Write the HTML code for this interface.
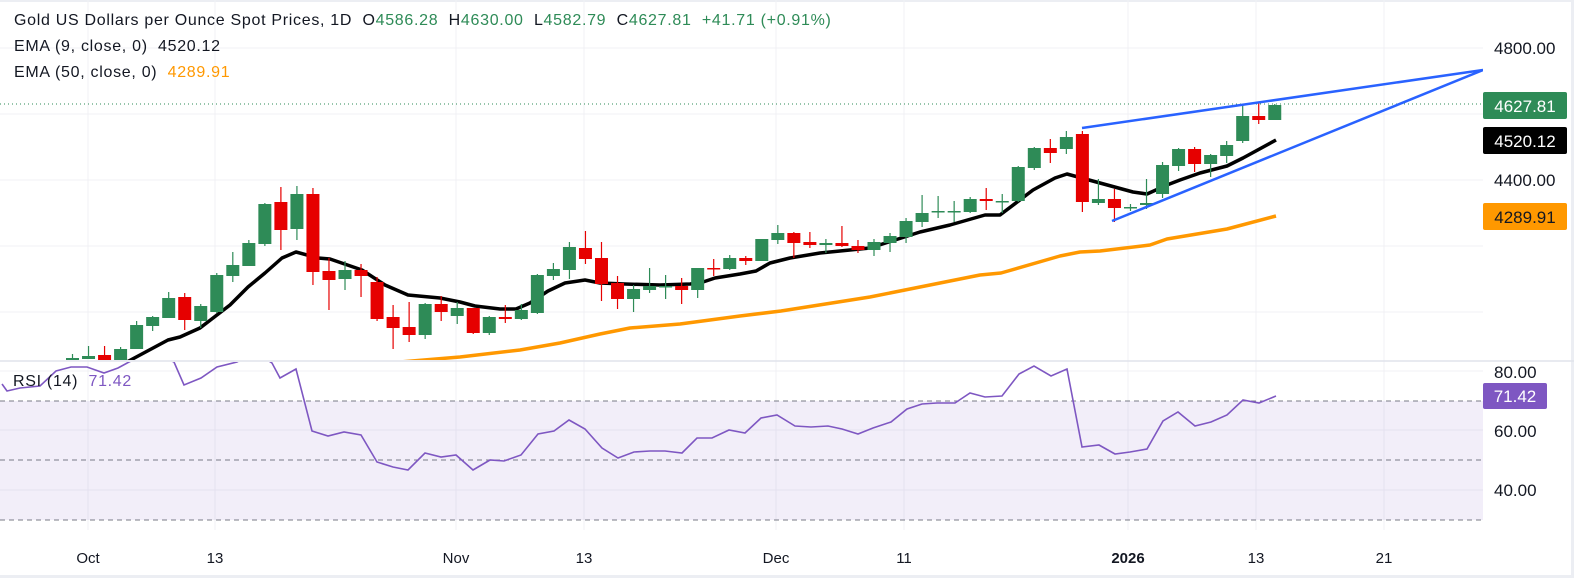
<!DOCTYPE html>
<html><head><meta charset="utf-8"><style>
body{margin:0;background:#fff;width:1574px;height:578px;overflow:hidden;font-family:"Liberation Sans",sans-serif}
.t{position:absolute;font-size:16px;color:#131722;white-space:nowrap;letter-spacing:0.7px}
.g{color:#2e8b57}
</style></head><body>
<svg id="s" width="1574" height="578" style="position:absolute;left:0;top:0" xmlns="http://www.w3.org/2000/svg">
<rect x="0" y="0" width="1574" height="578" fill="#fff"/>
<rect x="0" y="0" width="1574" height="2" fill="#eceef3"/>
<rect x="1571" y="0" width="3" height="578" fill="#eceef3"/>
<rect x="0" y="575" width="1574" height="3" fill="#eceef3"/>
<g stroke="#f0f1f4" stroke-width="1">
<line x1="0" y1="48" x2="1483" y2="48"/><line x1="0" y1="114" x2="1483" y2="114"/><line x1="0" y1="180" x2="1483" y2="180"/><line x1="0" y1="246" x2="1483" y2="246"/><line x1="0" y1="312" x2="1483" y2="312"/>
<line x1="0" y1="371" x2="1483" y2="371"/><line x1="0" y1="430" x2="1483" y2="430"/><line x1="0" y1="490" x2="1483" y2="490"/>
<line x1="88" y1="0" x2="88" y2="530"/><line x1="215" y1="0" x2="215" y2="530"/><line x1="456" y1="0" x2="456" y2="530"/><line x1="584" y1="0" x2="584" y2="530"/><line x1="776" y1="0" x2="776" y2="530"/><line x1="904" y1="0" x2="904" y2="530"/><line x1="1128" y1="0" x2="1128" y2="530"/><line x1="1256" y1="0" x2="1256" y2="530"/><line x1="1384" y1="0" x2="1384" y2="530"/>
</g>
<rect x="0" y="401" width="1483" height="119" fill="#7e57c2" fill-opacity="0.1"/>
<g stroke="#787b86" stroke-width="1" stroke-dasharray="5,4">
<line x1="0" y1="401" x2="1483" y2="401"/><line x1="0" y1="460" x2="1483" y2="460"/><line x1="0" y1="520" x2="1483" y2="520"/>
</g>
<line x1="0" y1="104" x2="1483" y2="104" stroke="#2e8b57" stroke-width="1" stroke-dasharray="1,3"/>
<defs><clipPath id="cp"><rect x="0" y="0" width="1483" height="360"/></clipPath><clipPath id="cr"><rect x="0" y="362" width="1483" height="170"/></clipPath></defs>
<g id="main" clip-path="url(#cp)"></g>
<line x1="0" y1="361" x2="1574" y2="361" stroke="#e0e3eb" stroke-width="1.5"/>
<polyline clip-path="url(#cr)" fill="none" stroke="#7e57c2" stroke-width="1.6" points="2,384 7,391 20,388 40,386 56,371 71,367 87,367 104,373 118,368 129,362 150,352 174,362 184,385 201,378 217,367 237,362 255,352 272,363 280,378 296,369 312,431 328,436 344,432 361,435 377,462 393,467 408,470 425,453 441,457 456,455 473,470 490,460 504,461 521,455 538,434 554,431 569,420 585,429 602,448 618,458 634,452 650,451 665,451 682,453 697,438 712,438 729,430 745,433 761,418 777,415 795,426 811,427 828,426 842,429 858,434 873,428 891,422 907,409 922,404 937,403 955,403 970,393 985,397 1002,396 1019,374 1034,366 1051,376 1067,369 1082,447 1099,445 1115,454 1130,452 1147,449 1163,421 1178,412 1195,426 1211,422 1227,415 1243,400 1259,403 1276,396"/>
<g font-family="Liberation Sans, sans-serif" font-size="17" fill="#131722">
<text x="1494" y="54">4800.00</text>
<text x="1494" y="186">4400.00</text>
<text x="1494" y="378">80.00</text>
<text x="1494" y="437">60.00</text>
<text x="1494" y="496">40.00</text>
</g>
<rect x="1483" y="92" width="84" height="27" rx="2" fill="#2e8b57"/>
<text x="1525" y="112" text-anchor="middle" font-family="Liberation Sans, sans-serif" font-size="17" fill="#fff">4627.81</text>
<rect x="1483" y="127" width="84" height="27" rx="2" fill="#000"/>
<text x="1525" y="147" text-anchor="middle" font-family="Liberation Sans, sans-serif" font-size="17" fill="#fff">4520.12</text>
<rect x="1483" y="203" width="84" height="27" rx="2" fill="#ff9800"/>
<text x="1525" y="223" text-anchor="middle" font-family="Liberation Sans, sans-serif" font-size="17" fill="#131722">4289.91</text>
<rect x="1483" y="383" width="64" height="26" rx="2" fill="#7e57c2"/>
<text x="1515" y="402" text-anchor="middle" font-family="Liberation Sans, sans-serif" font-size="17" fill="#fff">71.42</text>
<g font-family="Liberation Sans, sans-serif" font-size="15" fill="#131722" text-anchor="middle">
<text x="88" y="563">Oct</text><text x="215" y="563">13</text><text x="456" y="563">Nov</text><text x="584" y="563">13</text><text x="776" y="563">Dec</text><text x="904" y="563">11</text><text x="1128" y="563" font-weight="bold">2026</text><text x="1256" y="563">13</text><text x="1384" y="563">21</text>
</g>
</svg>
<div class="t" style="left:14px;top:12px">Gold US Dollars per Ounce Spot Prices, 1D&nbsp; O<span class="g">4586.28</span>&nbsp; H<span class="g">4630.00</span>&nbsp; L<span class="g">4582.79</span>&nbsp; C<span class="g">4627.81</span>&nbsp; <span class="g">+41.71 (+0.91%)</span></div>
<div class="t" style="left:14px;top:38px">EMA (9, close, 0)&nbsp; 4520.12</div>
<div class="t" style="left:14px;top:64px">EMA (50, close, 0)&nbsp; <span style="color:#ff9800">4289.91</span></div>
<div class="t" style="left:13px;top:373px">RSI (14)&nbsp; <span style="color:#7e57c2">71.42</span></div>
<script>
var C=[[358,361,354,361,1],[356,359,346,359,1],[355,360,346,361,0],[349,360,347,360,1],[325,349,321,349,1],[317,326,316,331,1],[298,318,292,318,1],[297,320,293,330,0],[306,321,304,328,1],[275,312,273,313,1],[265,276,252,282,1],[243,266,240,266,1],[204,244,203,246,1],[202,230,187,250,0],[194,229,186,240,1],[194,272,188,285,0],[271,280,258,310,0],[270,279,261,290,1],[270,276,264,297,0],[282,319,277,321,0],[317,328,305,349,0],[327,335,302,342,0],[304,335,303,339,1],[304,312,296,321,0],[308,316,302,324,1],[308,333,308,334,0],[317,333,316,335,1],[317,319,305,323,0],[310,319,304,320,1],[275,313,274,314,1],[269,276,263,280,1],
[247,270,242,279,1],[248,259,231,264,0],[258,284,242,301,0],[283,299,276,309,0],[289,299,285,312,1],[286,290,268,293,1],[286,287,275,299,1],[286,290,278,304,0],[268,290,268,298,1],[268,269,259,276,0],[258,269,255,270,1],[258,261,256,265,0],[239,261,239,261,1],[233,240,225,244,1],[233,243,232,258,0],[242,245,232,248,0],[243,245,239,253,1],[243,246,226,247,0],[246,250,240,253,0],[242,250,239,256,1],[236,243,233,252,1],[221,237,218,243,1],[213,222,195,227,1],[211,212,196,218,1],[211,212,201,222,1],[199,212,197,213,1],[199,201,188,210,0],[201,202,194,213,1],[167,201,166,202,1],
[148,168,147,170,1],[148,153,139,163,0],[137,149,131,154,1],[134,202,131,212,0],[199,203,179,205,1],[199,208,189,222,0],[207,208,204,211,1],[203,205,179,209,1],[165,194,162,198,1],[149,166,148,171,1],[149,164,147,172,0],[155,164,154,177,1],[145,156,141,163,1],[116,141,105,143,1],[116,120,102,124,0],[105,120,104,120,1]];
var h='';
h+='<polyline fill="none" stroke="#ff9800" stroke-width="3.5" stroke-linejoin="round" points="400,362 460,357 520,350 560,343 600,334 630,328 680,324 740,316 781,311 870,297 920,287 980,275 1001,273 1060,256 1080,252 1100,251 1150,245 1167,239 1227,229 1276,216"/>';
h+='<polyline fill="none" stroke="#000" stroke-width="3.5" stroke-linejoin="round" points="125,363 140,355 168,340 180,337 200,328 230,305 248,287 265,273 282,258 296,252 318,258 330,259 362,270 385,285 408,295 440,298 460,302 475,306 500,309 516,309 530,303 548,291 565,283 585,280 600,283 625,284 660,285 690,284 700,283 715,278 740,274 756,271 770,263 790,258 820,253 850,250 870,248 895,240 920,232 950,225 985,215 1000,215 1033,190 1055,178 1067,174 1100,183 1133,192 1147,194 1167,185 1180,180 1200,173 1227,166 1243,158 1276,140"/>';
for(var i=0;i<C.length;i++){var c=C[i],x=72.5+16.03*i,col=c[4]?'#2e8b57':'#e60000';
h+='<line x1="'+x+'" y1="'+c[2]+'" x2="'+x+'" y2="'+c[3]+'" stroke="'+col+'" stroke-width="1.2"/>';
h+='<rect x="'+(x-6.5)+'" y="'+c[0]+'" width="13" height="'+Math.max(1.5,c[1]-c[0])+'" fill="'+col+'"/>';}
h+='<line x1="1082" y1="128" x2="1483" y2="70" stroke="#2962ff" stroke-width="2.5"/>';
h+='<line x1="1112" y1="221" x2="1483" y2="70" stroke="#2962ff" stroke-width="2.5"/>';
document.getElementById('main').innerHTML=h;
</script>
</body></html>
